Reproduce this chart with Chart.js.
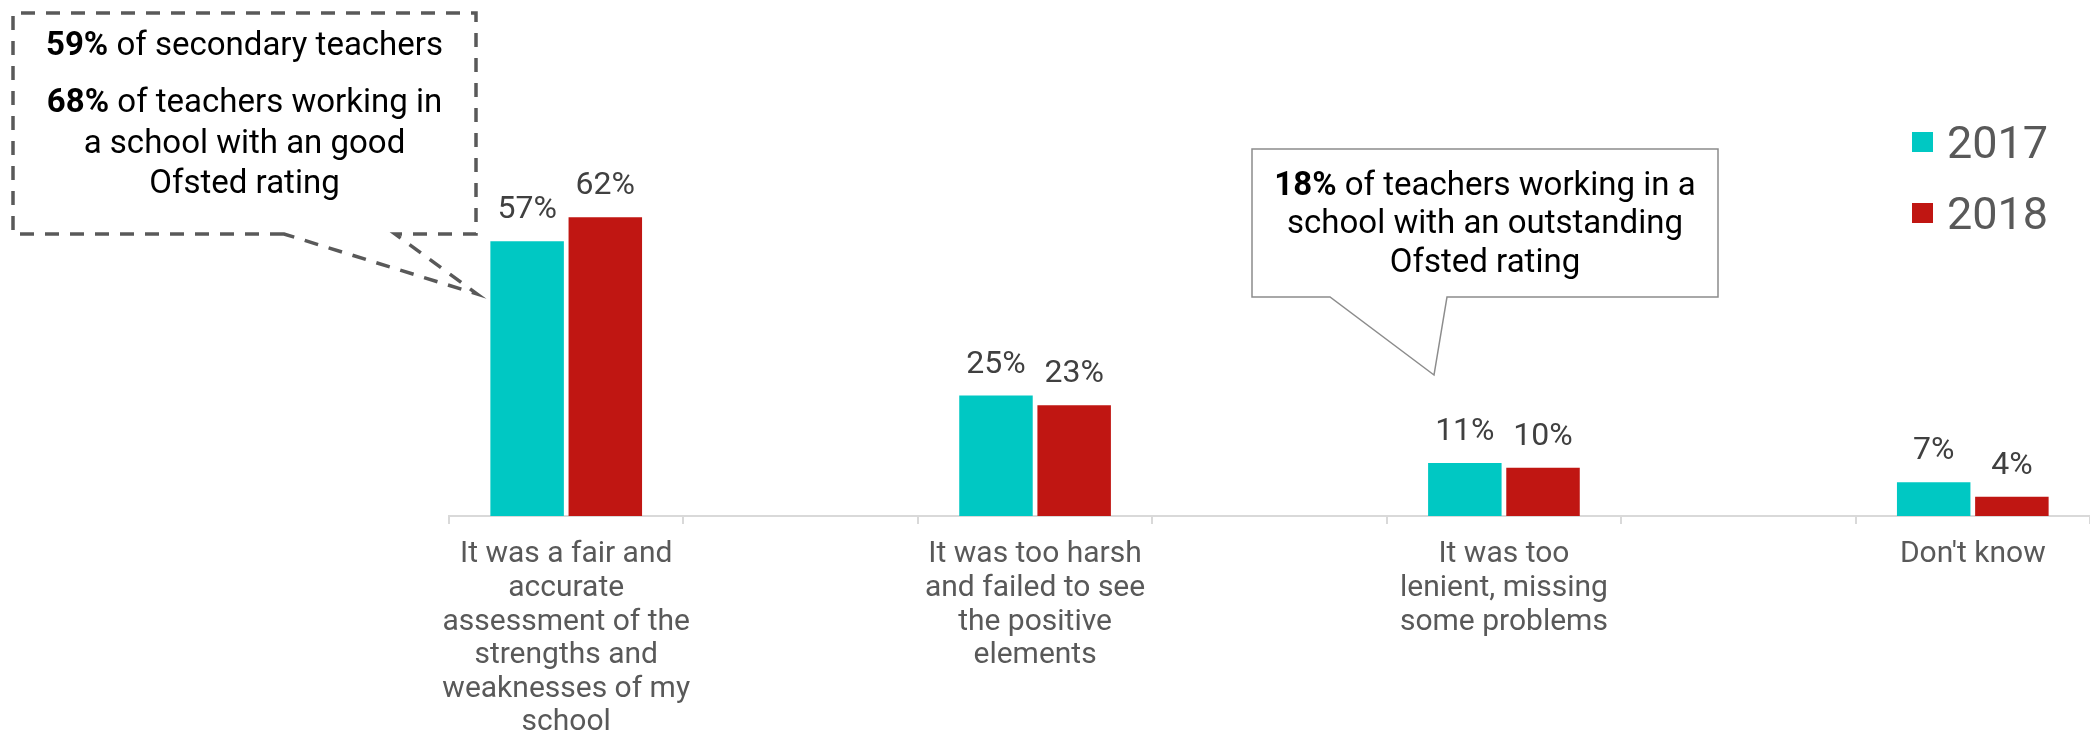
<!DOCTYPE html>
<html>
<head>
<meta charset="utf-8">
<script src="https://cdn.jsdelivr.net/npm/chart.js@4.4.1/dist/chart.umd.min.js"></script>
<style>
  body { margin: 0; background: #fff; }
</style>
</head>
<body>
<canvas id="myChart" width="2090" height="742"></canvas>
<script>
// answers (empty slot between groups keeps the wide spacing)
const categories = [
  ['It was a fair and', 'accurate', 'assessment of the', 'strengths and', 'weaknesses of my', 'school'],
  '',
  ['It was too harsh', 'and failed to see', 'the positive', 'elements'],
  '',
  ['It was too', 'lenient, missing', 'some problems'],
  '',
  ["Don't know"]
];
const years = ['2017', '2018'];
const values2017 = [57, null, 25, null, 11, null, 7];
const values2018 = [62, null, 23, null, 10, null, 4];

// callout lines, [text, bold]
const noteGood = [
  [['59%', true], [' of secondary teachers', false]],
  [['68%', true], [' of teachers working in', false]],
  [['a school with an good', false]],
  [['Ofsted rating', false]]
];
const noteOutstanding = [
  [['18%', true], [' of teachers working in a', false]],
  [['school with an outstanding', false]],
  [['Ofsted rating', false]]
];

const FONT = 'Roboto';

function richLine(ctx, parts, cx, y, size) {
  const widths = parts.map(p => {
    ctx.font = (p[1] ? 'bold ' : '') + size + 'px ' + FONT;
    return ctx.measureText(p[0]).width;
  });
  let x = cx - widths.reduce((a, b) => a + b, 0) / 2;
  parts.forEach((p, i) => {
    ctx.font = (p[1] ? 'bold ' : '') + size + 'px ' + FONT;
    ctx.fillText(p[0], x, y);
    x += widths[i];
  });
}

// % labels over each bar
const barLabels = {
  id: 'barLabels',
  afterDatasetsDraw(chart) {
    const ctx = chart.ctx;
    ctx.save();
    ctx.font = '32px ' + FONT;
    ctx.fillStyle = '#404040';
    ctx.textAlign = 'center';
    ctx.textBaseline = 'alphabetic';
    chart.data.datasets.forEach((ds, i) => {
      chart.getDatasetMeta(i).data.forEach((bar, j) => {
        if (ds.data[j] == null) return;
        ctx.fillText(ds.data[j] + '%', bar.x, bar.y - 23);
      });
    });
    ctx.restore();
  }
};

// legend top right, big year labels
const yearLegend = {
  id: 'yearLegend',
  afterDraw(chart) {
    const ctx = chart.ctx;
    ctx.save();
    ctx.font = '45px ' + FONT;
    ctx.textBaseline = 'alphabetic';
    chart.data.datasets.forEach((ds, i) => {
      const y = 132 + i * 71;
      ctx.fillStyle = ds.backgroundColor;
      ctx.fillRect(1912, y, 21, 20);
      ctx.fillStyle = '#595959';
      ctx.fillText(ds.label, 1947, y + 26);
    });
    ctx.restore();
  }
};

// the two speech bubbles
const callouts = {
  id: 'callouts',
  afterDraw(chart) {
    const ctx = chart.ctx;
    ctx.save();

    // dashed bubble pointing at the first group
    ctx.beginPath();
    ctx.moveTo(284, 234);
    ctx.lineTo(13, 234);
    ctx.lineTo(13, 13);
    ctx.lineTo(476, 13);
    ctx.lineTo(476, 234);
    ctx.lineTo(395, 234);
    ctx.lineTo(477, 294);
    ctx.closePath();
    ctx.setLineDash([14, 11]);
    ctx.lineWidth = 3.5;
    ctx.strokeStyle = '#595959';
    ctx.stroke();
    ctx.setLineDash([]);

    ctx.fillStyle = '#000';
    ctx.textBaseline = 'alphabetic';
    const ysGood = [55, 112, 153, 193];
    noteGood.forEach((line, i) => richLine(ctx, line, 244.5, ysGood[i], 33));

    // plain bubble pointing at "too lenient"
    ctx.beginPath();
    ctx.moveTo(1252, 149);
    ctx.lineTo(1718, 149);
    ctx.lineTo(1718, 297);
    ctx.lineTo(1447, 297);
    ctx.lineTo(1434, 375);
    ctx.lineTo(1330, 297);
    ctx.lineTo(1252, 297);
    ctx.closePath();
    ctx.fillStyle = '#fff';
    ctx.fill();
    ctx.lineWidth = 1.5;
    ctx.strokeStyle = '#8c8c8c';
    ctx.stroke();

    ctx.fillStyle = '#000';
    const ysOut = [195, 233, 272];
    noteOutstanding.forEach((line, i) => richLine(ctx, line, 1485, ysOut[i], 33));

    ctx.restore();
  }
};

const data = {
  labels: categories,
  datasets: [{
    label: years[0],
    data: values2017,
    backgroundColor: '#00C8C3',
    categoryPercentage: 0.667,
    barPercentage: 0.94
  }, {
    label: years[1],
    data: values2018,
    backgroundColor: '#C01612',
    categoryPercentage: 0.667,
    barPercentage: 0.94
  }]
};

const config = {
  type: 'bar',
  data,
  options: {
    responsive: false,
    animation: false,
    devicePixelRatio: 1,
    layout: {
      padding: { left: 449, right: -4, top: 34, bottom: 0 }
    },
    scales: {
      x: {
        afterFit(scale) { scale.height = 226; },
        grid: {
          offset: true,
          drawOnChartArea: false,
          drawTicks: true,
          tickLength: 8,
          color: '#d9d9d9',
          lineWidth: 2
        },
        border: { display: true, color: '#d9d9d9', width: 2 },
        ticks: {
          autoSkip: false,
          maxRotation: 0,
          padding: 14,
          color: '#595959',
          font: { family: FONT, size: 30, lineHeight: 1.12 }
        }
      },
      y: {
        display: false,
        min: 0,
        max: 100
      }
    },
    plugins: {
      legend: { display: false },
      tooltip: { enabled: false }
    }
  },
  plugins: [barLabels, yearLegend, callouts]
};

const myChart = new Chart(
  document.getElementById('myChart'),
  config
);
</script>
</body>
</html>
